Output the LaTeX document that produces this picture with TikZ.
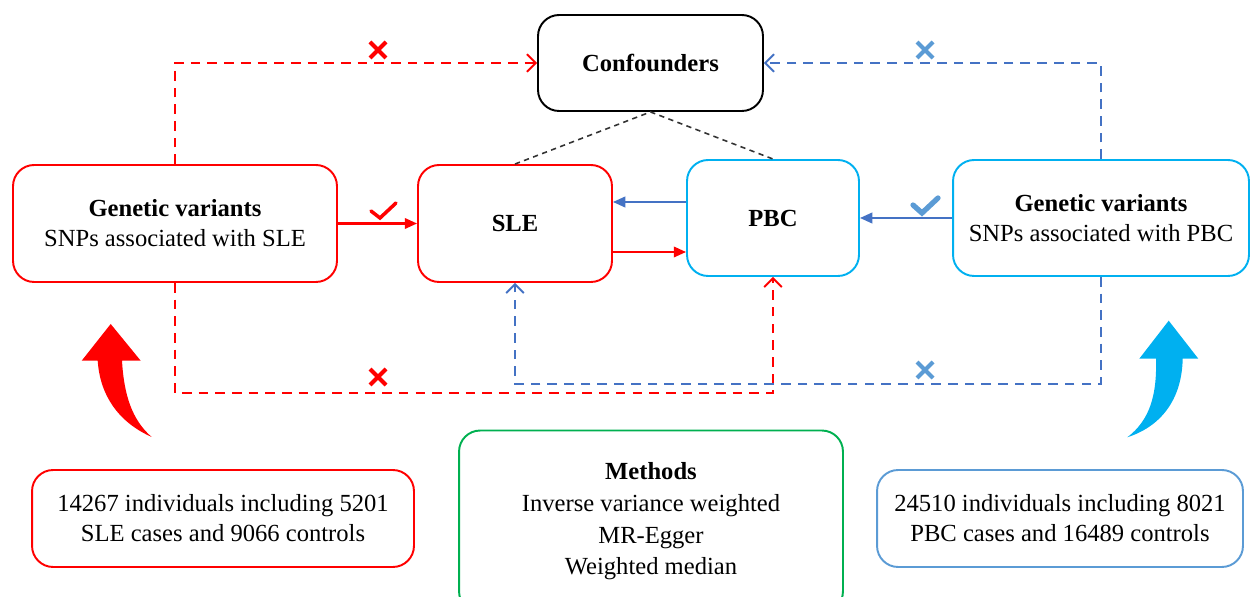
\documentclass[tikz,border=0pt]{standalone}
\usepackage{fontspec}
\setmainfont{Liberation Serif}
\usetikzlibrary{arrows.meta, positioning, calc}
\definecolor{slered}{RGB}{255, 0, 0}
\definecolor{pbccyan}{RGB}{0, 176, 240}
\definecolor{linkblue}{RGB}{68, 114, 196}
\definecolor{markblue}{RGB}{91, 155, 213}
\definecolor{methgreen}{RGB}{0, 176, 80}
\newcommand{\nolink}[3]{\draw[#1, line width=2.4pt] (#2-8,#3-8) -- (#2+8,#3+8) (#2-8,#3+8) -- (#2+8,#3-8);}
\tikzset{
  box/.style={draw, line width=1.1pt, rounded corners=12pt, align=center, inner sep=2pt},
  dashlink/.style={line width=1.1pt, dash pattern=on 5.5pt off 4pt, -{Straight Barb[length=5pt, width=10pt]}},
  solidlink/.style={line width=1.2pt, -{Triangle[length=7pt, width=6pt]}}
}

\begin{document}
\begin{tikzpicture}[x=0.02cm, y=-0.02cm, font=\fontsize{14}{17}\selectfont]
  \useasboundingbox (0,0) rectangle (1251,597);

  \node[box, draw=black, minimum width=4.5cm, minimum height=1.92cm] (conf) at (650.5,63) {\textbf{Confounders}};
  \node[box, draw=slered, minimum width=6.48cm, minimum height=2.34cm] (lgv) at (175,223.5)
    {\textbf{Genetic variants}\\SNPs associated with SLE};
  \node[box, draw=slered, minimum width=3.88cm, minimum height=2.34cm] (sle) at (515,223.5) {\textbf{SLE}};
  \node[box, draw=pbccyan, minimum width=3.44cm, minimum height=2.32cm] (pbc) at (773,218) {\textbf{PBC}};
  \node[box, draw=pbccyan, minimum width=5.92cm, minimum height=2.32cm] (rgv) at (1101,218)
    {\textbf{Genetic variants}\\SNPs associated with PBC};
  \node[box, draw=slered, minimum width=7.64cm, minimum height=1.94cm] (lsample) at (223,518.5)
    {14267 individuals including 5201\\SLE cases and 9066 controls};
  \node[box, draw=methgreen, minimum width=7.68cm, minimum height=3.64cm, font=\fontsize{14}{18}\selectfont] (methods) at (651,521.5)
    {\textbf{Methods}\\Inverse variance weighted\\MR-Egger\\Weighted median};
  \node[box, draw=markblue, minimum width=7.32cm, minimum height=1.94cm] (rsample) at (1060,518.5)
    {24510 individuals including 8021\\PBC cases and 16489 controls};

  \draw[dashlink, slered] (lgv.north) |- (conf.west);
  \draw[dashlink, linkblue] (rgv.north) |- (conf.east);
  \draw[dashlink, slered] (lgv.south) -- ++(0,110) -| (pbc.south);
  \draw[dashlink, linkblue] (rgv.south) -- ++(0,107) -| (sle.south);
  \draw[black!80, line width=0.9pt, dash pattern=on 3pt off 2.5pt] (sle.north) -- (conf.south) -- (pbc.north);

  \coordinate (upper) at (650,202);
  \coordinate (lower) at (650,252);
  \draw[solidlink, slered] (lgv.east) -- (sle.west);
  \draw[solidlink, linkblue] (pbc.west |- upper) -- (sle.east |- upper);
  \draw[solidlink, slered] (sle.east |- lower) -- (pbc.west |- lower);
  \draw[solidlink, linkblue] (rgv.west) -- (pbc.east);

  \draw[slered, line width=2pt, line cap=round] (371,211) -- (380,218) -- (396,203);
  \draw[markblue, line width=3pt, line cap=round] (913,205) -- (922,213) -- (938,198);
  \nolink{slered}{378}{50}
  \nolink{markblue}{925}{50}
  \nolink{slered}{378}{377}
  \nolink{markblue}{925}{370}

  \fill[slered] (110.7,324) -- (140.7,360.7) -- (122,360.7) .. controls (124,395) and (132,420) .. (151.7,437)
    .. controls (118,422) and (100,395) .. (97.7,360.7) -- (81.7,360.7) -- cycle;
  \fill[pbccyan] (1168.7,320.7) -- (1198.3,358.7) -- (1182.7,358.7) .. controls (1182,395) and (1165,425) .. (1127.3,437.3)
    .. controls (1150,420) and (1157,395) .. (1156,358.7) -- (1139.3,358.7) -- cycle;
\end{tikzpicture}
\end{document}
